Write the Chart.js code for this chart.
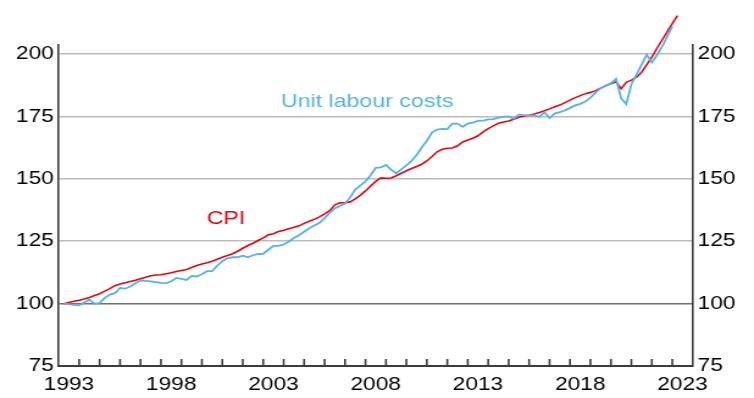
<!DOCTYPE html>
<html><head><meta charset="utf-8">
<script src="https://cdn.jsdelivr.net/npm/chart.js@4.4.0/dist/chart.umd.min.js"></script>
<style>
html,body{margin:0;padding:0;background:#fff;overflow:hidden;}
#wrap{width:754px;height:398px;overflow:hidden;}
#c{display:block;width:618px;height:398px;transform:scaleX(1.22);transform-origin:0 0;}
</style></head><body><div id="wrap"><canvas id="c" width="618" height="398"></canvas></div>
<script>
// Quarterly index, March quarter 1993 = 100
const startYear = 1993;
const seriesNames = ['Unit labour costs', 'CPI'];
const cpi = [
100.0,100.5,101.0,101.4,101.9,102.5,103.3,104.0,105.0,106.0,
107.2,107.9,108.4,108.9,109.4,110.0,110.6,111.2,111.5,111.6,
112.0,112.4,112.9,113.3,113.7,114.5,115.3,115.9,116.4,117.0,
117.8,118.6,119.3,120.0,121.0,122.2,123.3,124.2,125.3,126.4,
127.6,128.0,128.9,129.4,130.0,130.6,131.2,132.2,133.0,133.8,
134.8,136.0,137.3,139.6,140.4,140.5,140.8,142.0,143.5,145.2,
147.2,149.0,150.4,150.3,150.4,151.3,152.3,153.3,154.2,155.0,
155.9,157.2,159.0,160.9,161.9,162.3,162.4,163.3,164.8,165.6,
166.3,167.3,168.9,170.2,171.3,172.3,172.8,173.2,173.9,174.7,
175.2,175.5,176.0,176.6,177.3,178.1,178.9,179.6,180.6,181.6,
182.6,183.4,184.2,184.7,185.4,186.4,187.3,188.2,189.0,186.2,
188.7,189.6,190.8,192.8,195.8,198.8,202.4,205.7,209.0,212.3,
215.5];
const ulc = [
100.0,99.8,99.5,99.3,100.5,101.6,100.0,100.2,102.3,103.6,
104.2,106.3,106.0,106.9,108.2,109.3,109.1,108.9,108.6,108.3,
108.2,109.0,110.3,109.9,109.5,111.1,110.9,111.8,113.0,113.0,
115.2,117.0,118.2,118.6,118.6,119.2,118.6,119.4,119.9,120.0,
121.6,123.2,123.2,123.7,124.9,126.3,127.4,128.8,130.2,131.3,
132.4,134.3,136.4,138.2,139.2,140.1,142.6,145.7,147.4,149.0,
151.5,154.4,154.6,155.6,153.7,152.3,153.8,155.4,157.2,159.6,
162.6,165.3,168.6,169.8,170.1,170.0,172.2,172.2,170.9,172.2,
172.6,173.3,173.4,173.9,174.0,174.6,174.9,175.1,174.2,175.8,
175.6,175.5,175.5,174.9,176.8,174.4,176.2,176.8,177.5,178.5,
179.5,180.1,181.0,182.6,184.6,186.4,187.4,188.3,190.1,182.3,
180.0,188.0,191.8,195.8,199.8,196.7,199.6,203.0,207.0,211.2];
const tickYears = [1993, 1998, 2003, 2008, 2013, 2018, 2023];
const yTicks = [75, 100, 125, 150, 175, 200];
const yMin = 75, yMax = 203.7, xMin = 1993, xMax = 2024;

const RED = '#e30613', BLUE = '#55b3e8', AXIS = '#3c3c3c';
const FONT = {family: "'Liberation Sans', Arial, sans-serif", size: 18.6};

function toPoints(arr) { return arr.map((v, i) => ({x: startYear + (i + 1) / 4, y: v})); }

const deco = {
  id: 'deco',
  afterDatasetsDraw(chart) {
    const {ctx, chartArea, scales} = chart;
    const x = scales.x, y = scales.y;
    ctx.save();
    ctx.strokeStyle = AXIS; ctx.lineWidth = 1.6;
    for (let yr = xMin + 1; yr < xMax; yr++) {
      const px = x.getPixelForValue(yr);
      ctx.beginPath(); ctx.moveTo(px, chartArea.bottom); ctx.lineTo(px, chartArea.bottom - 7); ctx.stroke();
    }
    ctx.font = "19px 'Liberation Sans', Arial, sans-serif";
    ctx.textAlign = 'center'; ctx.textBaseline = 'middle';
    ctx.fillStyle = BLUE;
    ctx.fillText(seriesNames[0], x.getPixelForValue(2008.08), y.getPixelForValue(180.8));
    ctx.fillStyle = RED;
    ctx.fillText(seriesNames[1], x.getPixelForValue(2001.18), y.getPixelForValue(134.1));
    ctx.restore();
  }
};

new Chart(document.getElementById('c'), {
  type: 'line',
  data: {
    datasets: [
      {label: seriesNames[0], data: toPoints(ulc), borderColor: BLUE, borderWidth: 1.8, pointRadius: 0, clip: false, tension: 0},
      {label: seriesNames[1], data: toPoints(cpi), borderColor: RED, borderWidth: 1.6, pointRadius: 0, clip: false, tension: 0}
    ]
  },
  options: {
    responsive: false, animation: false, devicePixelRatio: 1,
    layout: {padding: {top: 45, left: 0, right: 0, bottom: 0}},
    plugins: {legend: {display: false}, tooltip: {enabled: false}},
    scales: {
      x: {
        type: 'linear', min: xMin, max: xMax,
        afterBuildTicks: s => { s.ticks = tickYears.map(v => ({value: v + 0.5})); },
        afterFit: s => { s.height = 32; },
        ticks: {autoSkip: false, maxRotation: 0, padding: 8, color: '#000', font: FONT,
          callback: v => String(Math.floor(v))},
        grid: {drawOnChartArea: false, drawTicks: false},
        border: {color: AXIS, width: 2}
      },
      y: {
        position: 'left', min: yMin, max: yMax,
        afterBuildTicks: s => { s.ticks = yTicks.map(v => ({value: v})); },
        afterFit: s => { s.width = 48.1; },
        ticks: {padding: 4, color: '#000', font: FONT},
        grid: {drawTicks: false, lineWidth: 1.6,
          color: c => c.tick && c.tick.value === 75 ? 'rgba(0,0,0,0)' : (c.tick && c.tick.value === 100 ? '#707070' : '#bcbcbc')},
        border: {color: AXIS, width: 1.6}
      },
      y2: {
        position: 'right', min: yMin, max: yMax,
        afterBuildTicks: s => { s.ticks = yTicks.map(v => ({value: v})); },
        afterFit: s => { s.width = 50.2; },
        ticks: {padding: 4, color: '#000', font: FONT},
        grid: {drawOnChartArea: false, drawTicks: false},
        border: {color: AXIS, width: 1.6}
      }
    }
  },
  plugins: [deco]
});
</script>
</body></html>
